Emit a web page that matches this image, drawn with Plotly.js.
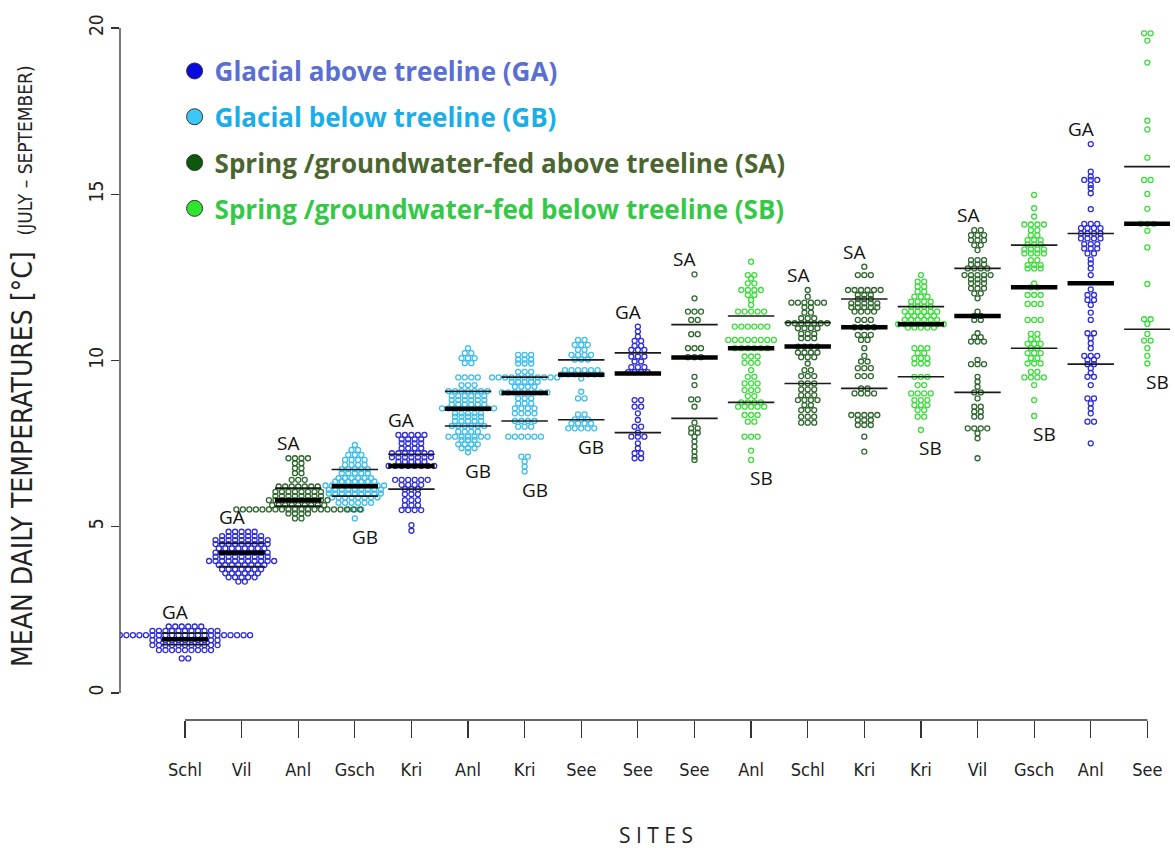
<!DOCTYPE html>
<html><head><meta charset="utf-8">
<script src="https://cdn.plot.ly/plotly-3.0.1.min.js"></script>
<style>html,body{margin:0;padding:0;background:#fff}#chart{width:1175px;height:848px}</style>
</head><body><div id="chart"></div>
<script>
// ---------- DATA ----------
const siteNames = ['Schl','Vil','Anl','Gsch','Kri','Anl','Kri','See','See','See','Anl','Schl','Kri','Kri','Vil','Gsch','Anl','See'];
const siteTypes = ['GA','GA','SA','GB','GA','GB','GB','GB','GA','SA','SB','SA','SA','SB','SA','SB','GA','SB'];
const labelSide = ['above','above','above','below','above','below','below','below','above','above','below','above','above','below','above','below','above','below'];

// swarm rows: temperature of each row and number of days in that row
const schlGA_vals = [2.0,1.87,1.74,1.59,1.44,1.29,1.04];
const schlGA_counts = [6,11,21,11,11,9,2];
const vilGA_vals = [4.85,4.72,4.6,4.48,4.35,4.22,4.1,3.97,3.85,3.72,3.6,3.48,3.35];
const vilGA_counts = [5,7,9,9,8,9,9,11,8,7,6,5,2];
const anlSA_vals = [7.06,6.91,6.76,6.61,6.41,6.21,6.05,5.92,5.8,5.65,5.52,5.4,5.25];
const anlSA_counts = [4,2,2,2,3,7,8,8,10,9,20,4,2];
const gschGB_vals = [7.46,7.31,7.16,7.01,6.86,6.73,6.61,6.46,6.36,6.24,6.11,6.0,5.88,5.72,5.52,5.25];
const gschGB_counts = [1,2,3,4,4,5,5,6,7,10,9,9,8,6,3,1];
const kriGA_vals = [7.76,7.63,7.51,7.36,7.21,7.09,6.96,6.83,6.41,6.26,6.13,5.98,5.8,5.65,5.5,5.05,4.88];
const kriGA_counts = [5,4,4,4,7,7,5,8,6,4,3,3,3,3,4,1,1];
const anlGB_vals = [10.37,10.22,10.07,9.92,9.49,9.26,9.08,8.93,8.81,8.68,8.56,8.41,8.31,8.18,8.03,7.86,7.71,7.61,7.48,7.36,7.24];
const anlGB_counts = [1,2,3,2,4,3,7,6,6,6,9,5,5,5,6,4,7,3,4,3,1];
const kriGB_vals = [10.17,10.03,9.91,9.66,9.49,9.36,9.21,9.04,8.86,8.71,8.56,8.41,8.18,8.01,7.71,7.11,6.96,6.81,6.66];
const kriGB_counts = [3,3,3,3,11,5,4,8,3,3,4,4,4,3,6,2,1,1,1];
const seeGB_vals = [10.62,10.47,10.32,10.17,10.03,9.71,9.58,9.46,9.06,8.86,8.38,8.23,8.11,7.96];
const seeGB_counts = [2,3,2,4,3,6,7,1,1,2,2,3,4,5];
const seeGA_vals = [11.02,10.87,10.72,10.59,10.44,10.32,10.12,9.97,9.8,9.65,8.81,8.61,8.41,8.21,8.01,7.83,7.71,7.51,7.36,7.21,7.06];
const seeGA_counts = [1,1,1,2,2,3,3,2,3,4,2,2,1,1,2,1,3,1,1,2,2];
const seeSA_vals = [12.59,11.87,11.47,11.22,10.79,10.37,10.1,9.51,9.26,8.83,8.61,8.13,7.96,7.83,7.71,7.56,7.41,7.26,7.11,7.01];
const seeSA_counts = [1,1,3,2,2,3,3,1,1,2,1,1,2,2,1,1,1,1,1,1];
const anlSB_vals = [12.97,12.57,12.47,12.32,12.12,11.97,11.82,11.67,11.47,11.02,10.62,10.37,10.12,9.93,9.71,9.51,9.31,9.11,8.93,8.74,8.61,8.36,8.16,7.71,7.29,7.01];
const anlSB_counts = [1,2,1,2,4,2,1,1,5,6,8,6,3,3,1,2,3,3,2,4,5,3,2,3,1,1];
const schlSA_vals = [12.12,11.92,11.74,11.6,11.44,11.27,11.12,10.97,10.8,10.67,10.42,10.24,10.1,9.91,9.71,9.53,9.31,9.13,8.96,8.81,8.66,8.51,8.31,8.13];
const schlSA_counts = [1,1,6,2,2,3,7,4,3,3,4,4,3,1,2,3,3,3,3,4,2,3,3,3];
const kriSA_vals = [12.82,12.57,12.12,11.97,11.85,11.72,11.6,11.47,11.22,11.0,10.77,10.62,10.37,10.14,9.97,9.77,9.53,9.16,9.01,8.36,8.21,8.06,7.71,7.26];
const kriSA_counts = [1,3,6,3,3,5,5,4,3,4,3,2,1,1,2,3,3,2,4,5,3,3,1,1];
const kriSB_vals = [12.57,12.37,12.22,12.07,11.92,11.77,11.62,11.47,11.34,11.22,11.09,10.99,10.37,10.22,10.07,9.91,9.51,9.26,9.01,8.81,8.66,8.51,8.31,7.91];
const kriSB_counts = [1,2,2,2,3,4,4,6,5,6,8,5,3,2,3,3,3,2,4,3,3,2,2,1];
const vilSA_vals = [13.92,13.77,13.62,13.47,13.32,13.02,12.89,12.77,12.57,12.44,12.32,12.17,12.02,11.87,11.47,11.34,11.22,10.82,10.7,10.57,10.02,9.89,9.51,9.36,9.21,9.04,8.86,8.61,8.46,8.31,7.96,7.81,7.66,7.06];
const vilSA_counts = [2,3,3,2,1,3,3,4,5,3,3,3,2,1,1,2,2,1,2,3,1,3,1,1,1,2,1,2,2,2,4,1,1,1];
const gschSB_vals = [14.98,14.58,14.33,14.09,13.92,13.77,13.62,13.49,13.34,13.22,13.02,12.87,12.77,12.32,12.2,11.97,11.7,11.22,10.8,10.64,10.5,10.37,10.22,10.07,9.91,9.66,9.49,9.26,8.81,8.33];
const gschSB_counts = [1,1,1,4,2,2,3,3,4,4,2,3,3,1,2,3,3,3,2,2,3,2,3,2,3,2,4,1,1,1];
const anlGA_vals = [16.51,15.68,15.53,15.43,15.28,15.18,15.03,14.55,14.11,13.98,13.82,13.67,13.5,13.37,13.22,13.04,12.92,12.77,12.57,12.14,11.97,11.82,11.67,11.44,11.22,10.82,10.67,10.52,10.37,10.14,10.02,9.89,9.77,9.63,9.51,9.26,8.86,8.71,8.56,8.41,8.16,7.51];
const anlGA_counts = [1,1,1,3,1,1,1,1,3,4,4,4,3,3,2,1,1,1,1,1,2,2,1,1,1,2,1,1,1,3,2,2,1,1,2,1,2,1,1,1,2,1];
const seeSB_vals = [19.84,19.62,18.96,17.21,16.95,16.1,15.43,15.01,14.56,14.11,13.9,13.4,12.3,11.24,11.1,10.8,10.6,10.37,10.14,9.91];
const seeSB_counts = [2,1,1,1,1,1,2,1,1,3,1,1,1,2,1,1,2,1,1,1];

const q3Values     = [1.80,4.50,6.16,6.72,7.18,9.07,9.50,10.02,10.23,11.08,11.34,11.14,11.85,11.62,12.77,13.47,13.82,15.83];
const medianValues = [1.62,4.22,5.80,6.22,6.83,8.55,9.02,9.57,9.61,10.09,10.37,10.42,11.00,11.09,11.34,12.20,12.32,14.11];
const q1Values     = [1.45,3.80,5.62,5.92,6.13,8.03,8.18,8.22,7.83,8.26,8.74,9.31,9.16,9.51,9.04,10.37,9.89,10.94];

const typeNames = {
  GA:'Glacial above treeline (GA)', GB:'Glacial below treeline (GB)',
  SA:'Spring /groundwater-fed above treeline (SA)', SB:'Spring /groundwater-fed below treeline (SB)'
};

// ---------- STYLE ----------
const pointColor = {GA:'#2c2cd8', GB:'#3dbdec', SA:'#2d662d', SB:'#3cdc3c'};
const legendFill = {GA:'#0a0ae0', GB:'#3cc8f5', SA:'#0b5a0b', SB:'#2ee62e'};
const legendText = {GA:'#5a6fd2', GB:'#1aaee8', SA:'#4b6531', SB:'#35c847'};
const narrow = '"Liberation Sans Narrow","DejaVu Sans Condensed","Arial Narrow",sans-serif';
const dx = 0.115, halfW = 0.41;

const siteRows = [
  [schlGA_vals,schlGA_counts],[vilGA_vals,vilGA_counts],[anlSA_vals,anlSA_counts],[gschGB_vals,gschGB_counts],
  [kriGA_vals,kriGA_counts],[anlGB_vals,anlGB_counts],[kriGB_vals,kriGB_counts],[seeGB_vals,seeGB_counts],
  [seeGA_vals,seeGA_counts],[seeSA_vals,seeSA_counts],[anlSB_vals,anlSB_counts],[schlSA_vals,schlSA_counts],
  [kriSA_vals,kriSA_counts],[kriSB_vals,kriSB_counts],[vilSA_vals,vilSA_counts],[gschSB_vals,gschSB_counts],
  [anlGA_vals,anlGA_counts],[seeSB_vals,seeSB_counts]
];

const pts = {GA:{x:[],y:[]},GB:{x:[],y:[]},SA:{x:[],y:[]},SB:{x:[],y:[]}};
siteRows.forEach(([vals,counts],i)=>{
  const xc=i+1, t=siteTypes[i];
  vals.forEach((v,r)=>{
    const n=counts[r];
    for(let k=0;k<n;k++){ pts[t].x.push(xc+(k-(n-1)/2)*dx); pts[t].y.push(v); }
  });
});

const traces=[];
['GA','GB','SA','SB'].forEach(t=>{
  traces.push({type:'scatter',mode:'markers',x:pts[t].x,y:pts[t].y,showlegend:false,hoverinfo:'y',
    marker:{symbol:'circle-open',size:5,color:pointColor[t],line:{width:1.3,color:pointColor[t]}}});
});
function segs(vals){const x=[],y=[];vals.forEach((v,i)=>{x.push(i+1-halfW,i+1+halfW,null);y.push(v,v,null);});return {x,y};}
const qa=segs(q1Values), qb=segs(q3Values), md=segs(medianValues);
traces.push({type:'scatter',mode:'lines',x:qa.x.concat(qb.x),y:qa.y.concat(qb.y),showlegend:false,hoverinfo:'skip',line:{color:'#1a1a1a',width:1.6}});
traces.push({type:'scatter',mode:'lines',x:md.x,y:md.y,showlegend:false,hoverinfo:'skip',line:{color:'#000',width:4.5}});
['GA','GB','SA','SB'].forEach(t=>{
  traces.push({type:'scatter',mode:'markers',x:[null],y:[null],legendgroup:t,
    name:'<b><span style="color:'+legendText[t]+'">'+typeNames[t]+'</span></b>',
    marker:{symbol:'circle',size:16,color:legendFill[t],line:{color:'#333',width:1}}});
});

const annotations=[];
siteRows.forEach(([vals],i)=>{
  const above = labelSide[i]==='above';
  const y = above ? Math.max(...vals)+0.45 : Math.min(...vals)-0.55;
  annotations.push({x:i+1,y:y,xref:'x',yref:'y',text:siteTypes[i],showarrow:false,xshift:above?-10:10,
    font:{family:'Open Sans, sans-serif',size:19,color:'#111'},xanchor:'center',yanchor:'middle'});
});
annotations.push({xref:'paper',yref:'paper',x:(22-120)/1050,y:(720-366)/699,xanchor:'center',yanchor:'middle',showarrow:false,textangle:-90,
  text:'MEAN DAILY TEMPERATURES [°C]  <span style="font-size:19px">(JULY – SEPTEMBER)</span>',
  font:{family:narrow,size:28,color:'#222'}});
annotations.push({xref:'paper',yref:'paper',x:(656-120)/1050,y:(720-835)/699,xanchor:'center',yanchor:'middle',showarrow:false,
  text:'S I T E S',font:{family:'Open Sans, sans-serif',size:21,color:'#222'}});

const shapes=[
  {type:'line',xref:'x',yref:'paper',x0:1,x1:18,y0:0,y1:0,line:{color:'#333',width:1.3}},
  {type:'line',xref:'paper',yref:'y',x0:0,x1:0,y0:0,y1:20,line:{color:'#333',width:1.3}}
];

const layout={
  width:1175,height:848,paper_bgcolor:'#fff',plot_bgcolor:'#fff',
  margin:{l:120,r:5,t:21,b:128},
  xaxis:{range:[-0.148,18.40],tickvals:siteNames.map((_,i)=>i+1),ticktext:siteNames,ticks:'outside',ticklen:17,tickwidth:1.2,tickcolor:'#333',
    showgrid:false,zeroline:false,showline:false,ticklabelstandoff:16,tickfont:{family:narrow,size:18,color:'#222'}},
  yaxis:{range:[-0.812,20.21],tickvals:[0,5,10,15,20],ticks:'outside',ticklen:8,tickwidth:1.2,tickcolor:'#333',tickangle:-90,
    showgrid:false,zeroline:false,showline:false,tickfont:{family:narrow,size:19,color:'#222'}},
  showlegend:true,
  legend:{x:0.052,y:0.962,xanchor:'left',yanchor:'top',bgcolor:'rgba(0,0,0,0)',tracegroupgap:9,
    font:{family:'Open Sans, sans-serif',size:26}},
  annotations:annotations,shapes:shapes
};
Plotly.newPlot('chart',traces,layout,{displayModeBar:false,staticPlot:true});
</script></body></html>
